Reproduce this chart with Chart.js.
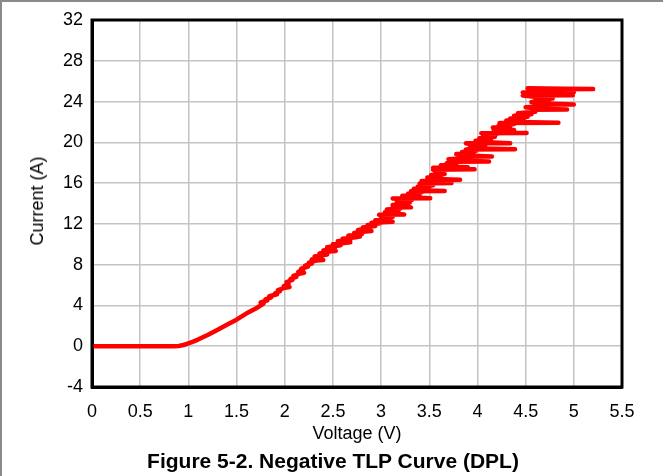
<!DOCTYPE html>
<html>
<head>
<meta charset="utf-8">
<script src="https://cdn.jsdelivr.net/npm/chart.js@4"></script>
<style>
  html, body { margin: 0; padding: 0; background: #fff; }
  #wrap { width: 663px; height: 476px; position: relative; overflow: hidden; }
  canvas { display: block; position: absolute; left: 0; top: 0; }
  .txt { position: absolute; color: #000; font-family: 'Liberation Sans', Arial, sans-serif; white-space: nowrap; }
  #figTitle { left: 0; width: 666px; top: 450px; text-align: center; font-size: 21px; font-weight: bold; line-height: 21px; }
  #yTitle { left: 37px; top: 201px; font-size: 18px; line-height: 20px; transform: translate(-50%, -50%) rotate(-90deg); }
</style>
</head>
<body>
<div id="wrap">
  <canvas id="c" width="663" height="476"></canvas>
  <div class="txt" id="yTitle"></div>
  <div class="txt" id="figTitle"></div>
</div>
<script>
// ---- data (voltage in V, current in A, drawn in order) ----
const voltage = [
  0, 0.3, 0.6, 0.85, 0.9, 0.95, 1.0, 1.05, 1.1, 1.15, 1.2, 1.3, 1.4, 1.5, 1.6, 1.7, 1.76,
  1.78, 1.75, 1.82, 1.80, 1.86, 1.84, 1.92, 1.90, 1.95, 1.93, 1.99, 2.05, 1.99, 2.04, 2.02, 2.08, 2.06,
  2.12, 2.09, 2.15, 2.20, 2.14, 2.19, 2.17, 2.24, 2.21, 2.28, 2.25,
  2.33, 2.40, 2.28, 2.38, 2.31, 2.44, 2.36, 2.46, 2.53, 2.40, 2.52, 2.44, 2.58, 2.50, 2.64, 2.68,
  2.55, 2.68, 2.60, 2.74, 2.78, 2.66, 2.80, 2.72, 2.84, 2.90, 2.76, 2.88, 2.81, 2.94, 2.86, 2.99,
  2.90, 3.12, 3.04, 2.94, 3.10, 3.00, 3.12, 3.00, 2.98, 3.24, 3.14, 3.04, 3.18, 3.06, 3.20, 3.12,
  3.31, 3.22, 3.12, 3.28, 3.16, 3.30, 3.18, 3.32, 3.12, 3.51, 3.34, 3.22, 3.40, 3.28, 3.42, 3.31,
  3.66, 3.44, 3.34, 3.50, 3.38, 3.54, 3.40, 3.73, 3.52, 3.42, 3.51, 3.82, 3.56,
  3.48, 3.62, 3.52, 3.66, 3.56, 3.64, 3.54, 3.97, 3.64, 3.54, 3.90, 3.72, 3.62, 3.78, 3.68, 3.76,
  4.12, 3.82, 3.70, 3.86, 3.81, 4.15, 3.90, 3.78, 3.96, 3.84, 3.98, 3.88, 4.39, 4.04, 3.92, 4.08,
  3.96, 3.88, 4.34, 4.10,
  3.98, 4.14, 4.02, 4.18, 4.06, 4.20, 4.04, 4.51, 4.24, 4.17, 4.38, 4.28, 4.16, 4.34, 4.22, 4.38,
  4.23, 4.84, 4.42, 4.30, 4.48, 4.34, 4.52, 4.38, 4.56, 4.42, 4.60, 4.57, 4.93, 4.62, 4.50, 4.66,
  4.63, 5.00, 4.70, 4.56, 4.74, 4.60, 4.78, 4.66, 4.47, 4.99, 4.80, 4.47, 5.00, 4.86, 4.70, 4.85,
  5.20, 4.90, 4.52
];
const current = [
  0, 0, 0, 0, 0.03, 0.12, 0.28, 0.45, 0.65, 0.88, 1.1, 1.6, 2.1, 2.6, 3.2, 3.7, 4.05,
  4.2, 4.3, 4.5, 4.6, 4.8, 4.9, 5.1, 5.2, 5.4, 5.5, 5.7, 5.8, 5.9, 6.1, 6.3, 6.5, 6.6,
  6.8, 6.9, 7.1, 7.2, 7.3, 7.5, 7.6, 7.8, 7.9, 8.1, 8.2,
  8.4, 8.45, 8.5, 8.7, 8.8, 9.0, 9.1, 9.3, 9.35, 9.4, 9.6, 9.7, 9.9, 10.0, 10.15, 10.2,
  10.3, 10.45, 10.55, 10.7, 10.75, 10.85, 11.0, 11.1, 11.25, 11.3, 11.4, 11.55, 11.65, 11.8, 11.9, 12.05,
  12.1, 12.2, 12.25, 12.35, 12.45, 12.55, 12.7, 12.8, 12.9, 12.92, 13.0, 13.15, 13.25, 13.4, 13.5, 13.6,
  13.62, 13.7, 13.85, 13.95, 14.05, 14.1, 14.2, 14.35, 14.5, 14.52, 14.6, 14.75, 14.85, 14.95, 15.1, 15.2,
  15.22, 15.3, 15.45, 15.55, 15.65, 15.8, 15.95, 16.0, 16.05, 16.2, 16.3, 16.32, 16.4,
  16.55, 16.65, 16.8, 16.9, 17.05, 17.15, 17.3, 17.35, 17.45, 17.5, 17.55, 17.6, 17.75, 17.85, 17.95, 18.1,
  18.12, 18.2, 18.35, 18.45, 18.6, 18.62, 18.7, 18.85, 18.95, 19.05, 19.15, 19.3, 19.32, 19.4, 19.5, 19.65,
  19.75, 19.9, 19.92, 20.0,
  20.15, 20.3, 20.4, 20.55, 20.65, 20.8, 20.9, 20.92, 21.0, 21.2, 21.22, 21.3, 21.45, 21.55, 21.65, 21.8,
  21.9, 21.92, 22.0, 22.15, 22.25, 22.35, 22.5, 22.6, 22.75, 22.85, 23.0, 23.2, 23.22, 23.3, 23.45, 23.55,
  23.7, 23.72, 23.8, 23.95, 24.05, 24.15, 24.3, 24.4, 24.6, 24.62, 24.7, 24.9, 24.92, 25.0, 25.1, 25.2,
  25.22, 25.25, 25.3
];
const xTickLabels = ["0", "0.5", "1", "1.5", "2", "2.5", "3", "3.5", "4", "4.5", "5", "5.5"];
const yTickLabels = ["-4", "0", "4", "8", "12", "16", "20", "24", "28", "32"];
const xTitle = "Voltage (V)";
const yTitle = "Current (A)";
const figureTitle = "Figure 5-2. Negative TLP Curve (DPL)";

document.getElementById('yTitle').textContent = yTitle;
document.getElementById('figTitle').textContent = figureTitle;

const points = voltage.map((v, i) => ({ x: v, y: current[i] }));
const FONT = "'Liberation Sans', Arial, sans-serif";

const framePlugin = {
  id: 'frame',
  beforeDraw(chart) {
    const ctx = chart.ctx;
    ctx.save();
    ctx.fillStyle = '#ffffff';
    ctx.fillRect(0, 0, chart.width, chart.height);
    ctx.fillStyle = '#8a8a8a';
    ctx.fillRect(0, 0, chart.width, 2);
    ctx.fillRect(0, 0, 2, chart.height);
    ctx.restore();
  },
  afterDraw(chart) {
    const a = chart.chartArea, ctx = chart.ctx;
    ctx.save();
    ctx.strokeStyle = '#000';
    ctx.lineWidth = 3;
    ctx.strokeRect(a.left, a.top, a.right - a.left, a.bottom - a.top);
    ctx.restore();
  }
};

new Chart(document.getElementById('c'), {
  type: 'scatter',
  data: {
    datasets: [{
      data: points,
      showLine: true,
      borderColor: '#ff0000',
      backgroundColor: '#ff0000',
      borderWidth: 4.5,
      pointRadius: 0,
      tension: 0,
      borderJoinStyle: 'round',
      borderCapStyle: 'round'
    }]
  },
  options: {
    responsive: false,
    animation: false,
    layout: { padding: { left: 0, top: 20, right: 41, bottom: 31 } },
    plugins: {
      legend: { display: false },
      tooltip: { enabled: false },
      title: { display: false }
    },
    scales: {
      x: {
        type: 'linear',
        min: 0, max: 5.5,
        afterBuildTicks: s => { s.ticks = xTickLabels.map(t => ({ value: parseFloat(t) })); },
        afterFit: s => { s.height = 58; },
        ticks: {
          callback: (v) => xTickLabels.find(t => parseFloat(t) === v) ?? '',
          color: '#000',
          font: { family: FONT, size: 18 },
          padding: 14,
          maxRotation: 0,
          autoSkip: false
        },
        grid: { color: '#c4c4c4', lineWidth: 1.5, drawTicks: false },
        border: { display: true, color: '#000', width: 3 },
        title: {
          display: true, text: xTitle, color: '#000',
          font: { family: FONT, size: 18, lineHeight: 1.2 },
          padding: { top: 0, bottom: 0 }
        }
      },
      y: {
        type: 'linear',
        min: -4, max: 32,
        afterBuildTicks: s => { s.ticks = yTickLabels.map(t => ({ value: parseFloat(t) })); },
        afterFit: s => { s.width = 92; },
        ticks: {
          callback: (v) => yTickLabels.find(t => parseFloat(t) === v) ?? '',
          color: '#000',
          font: { family: FONT, size: 18 },
          padding: 9,
          autoSkip: false
        },
        grid: { color: '#c4c4c4', lineWidth: 1.5, drawTicks: false },
        border: { display: true, color: '#000', width: 3 },
        title: { display: false }
      }
    }
  },
  plugins: [framePlugin]
});
</script>
</body>
</html>
